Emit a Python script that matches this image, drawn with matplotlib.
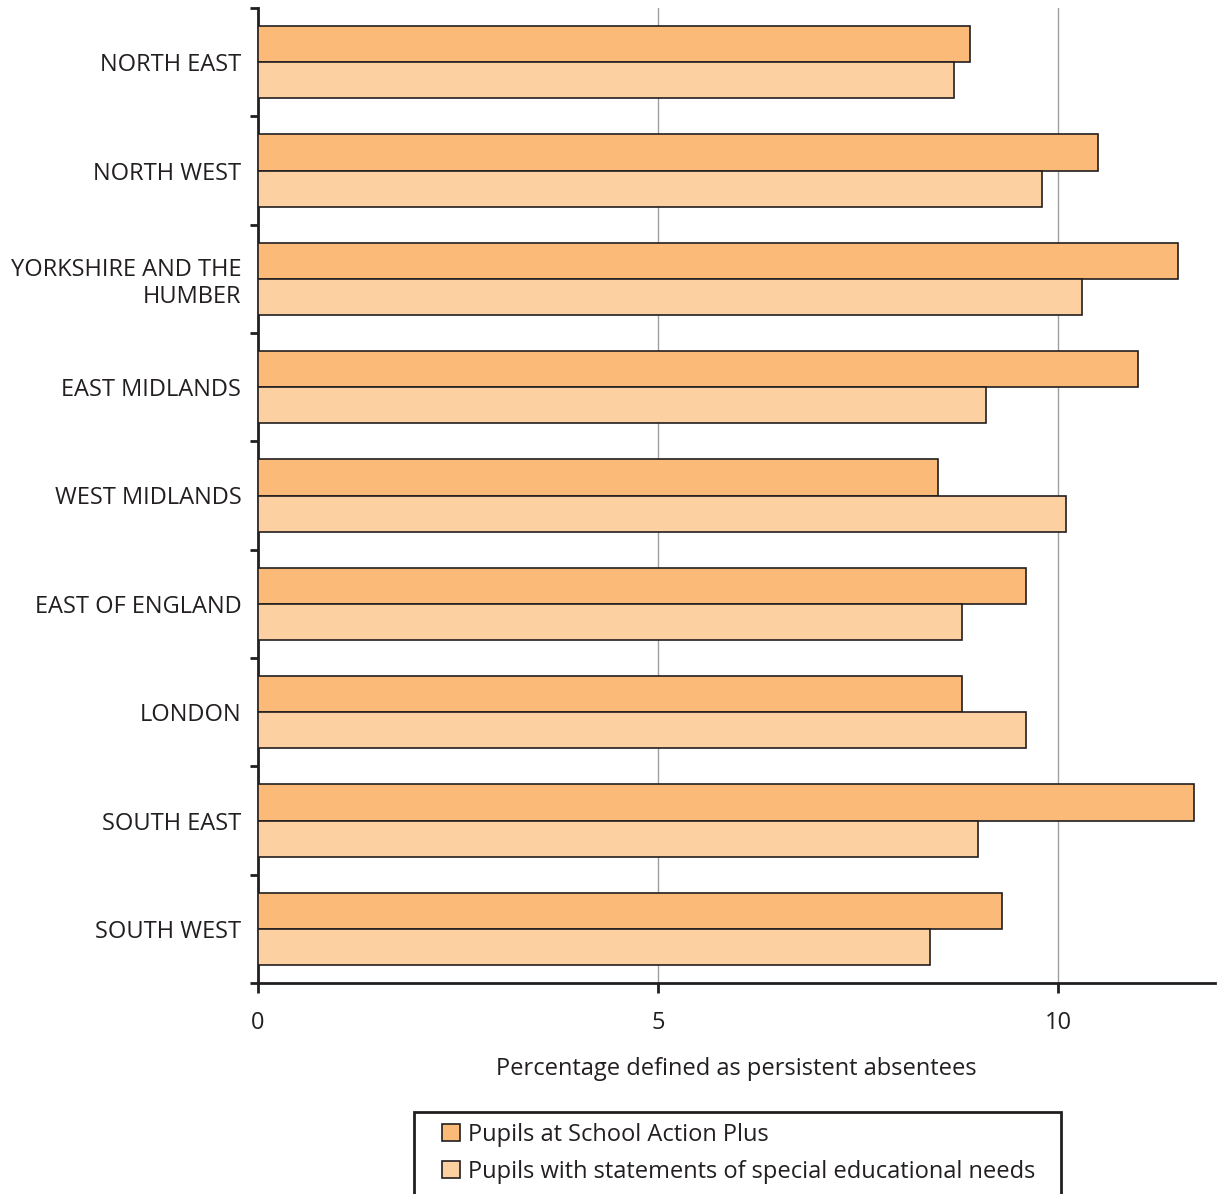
import numpy as np
import matplotlib.pyplot as plt
from matplotlib.patches import Rectangle
from matplotlib.ticker import FixedLocator

plt.rcParams['font.family'] = ['Open Sans', 'DejaVu Sans']

# data
regions = ["NORTH EAST", "NORTH WEST", "YORKSHIRE AND THE\nHUMBER", "EAST MIDLANDS",
           "WEST MIDLANDS", "EAST OF ENGLAND", "LONDON", "SOUTH EAST", "SOUTH WEST"]
action_plus = [8.9, 10.5, 11.5, 11.0, 8.5, 9.6, 8.8, 11.7, 9.3]
statements = [8.7, 9.8, 10.3, 9.1, 10.1, 8.8, 9.6, 9.0, 8.4]
labels = ["Pupils at School Action Plus",
          "Pupils with statements of special educational needs"]
col_dark = "#FBBA78"
col_light = "#FDD0A2"
ink = "#231f20"

W, H = 1217, 1194
fig = plt.figure(figsize=(W / 100, H / 100), dpi=100)
ax = fig.add_axes([258 / W, 1 - 983 / H, 957 / W, 975 / H])

y = np.arange(len(regions))
h = 1 / 3
ax.barh(y - h / 2, action_plus, height=h, color=col_dark, edgecolor=ink,
        linewidth=1.2, label=labels[0], zorder=3)
ax.barh(y + h / 2, statements, height=h, color=col_light, edgecolor=ink,
        linewidth=1.2, label=labels[1], zorder=3)

ax.set_ylim(len(regions) - 0.5, -0.5)
ax.set_xlim(0, 11.96)
ax.set_yticks(y)
ax.set_yticklabels(regions, fontsize=17, color=ink, linespacing=1.15)
ax.tick_params(axis="y", which="major", length=0, pad=12)
ax.yaxis.set_minor_locator(FixedLocator(np.arange(-0.5, len(regions), 1)))
ax.tick_params(axis="y", which="minor", length=6, width=2, color=ink)

ax.set_xticks([0, 5, 10])
ax.set_xticklabels(["0", "5", "10"], fontsize=17, color=ink)
ax.tick_params(axis="x", length=7, width=2, color=ink, pad=13)
ax.set_xlabel("Percentage defined as persistent absentees", fontsize=17,
              color=ink, labelpad=16)
ax.grid(axis="x", color="#a0a0a0", linewidth=1, zorder=0)

for s in ["top", "right"]:
    ax.spines[s].set_visible(False)
for s in ["left", "bottom"]:
    ax.spines[s].set_linewidth(2)
    ax.spines[s].set_color(ink)

# legend box, running off the bottom edge as in the original
fig.patches.append(Rectangle((414 / W, -0.01), 647 / W, 1 - 1112 / H + 0.01,
                             transform=fig.transFigure, fill=False,
                             edgecolor=ink, linewidth=2))
leg = fig.legend(loc="upper left", bbox_to_anchor=(442 / W, 1 - 1123 / H),
                 fontsize=17, frameon=False,
                 handlelength=0.75, handleheight=0.75, handletextpad=0.35,
                 borderpad=0, labelspacing=0.55, borderaxespad=0)
for t in leg.get_texts():
    t.set_color(ink)

fig.savefig("out.png", dpi=100)
